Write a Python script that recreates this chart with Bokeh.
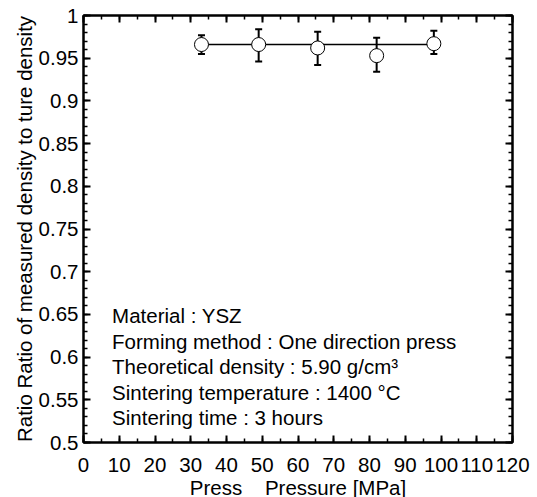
import numpy as np
from bokeh.plotting import figure
from bokeh.models import (ColumnDataSource, Whisker, TeeHead, LinearAxis, FixedTicker,
                          Range1d, Label)
from bokeh.embed import file_html
from bokeh.resources import INLINE

# ---- data ----
pressure = [33, 49, 65.5, 82, 98]
ratio = [0.966, 0.966, 0.962, 0.953, 0.967]
err_upper = [0.977, 0.984, 0.981, 0.974, 0.982]
err_lower = [0.955, 0.946, 0.942, 0.934, 0.955]
line_x = [33, 98]
line_y = [0.966, 0.966]

x_ticks = [0, 10, 20, 30, 40, 50, 60, 70, 80, 90, 100, 110, 120]
x_tick_labels = ["0", "10", "20", "30", "40", "50", "60", "70", "80", "90", "100", "110", "120"]
y_ticks = [0.5, 0.55, 0.6, 0.65, 0.7, 0.75, 0.8, 0.85, 0.9, 0.95, 1.0]
y_tick_labels = ["0.5", "0.55", "0.6", "0.65", "0.7", "0.75", "0.8", "0.85", "0.9", "0.95", "1"]

notes = ["Material : YSZ",
         "Forming method : One direction press",
         "Theoretical density : 5.90 g/cm\u00b3",
         "Sintering temperature : 1400 \u00b0C",
         "Sintering time : 3 hours"]

FONT = "Liberation Sans"
FS = "20.5px"
NB = "\u00a0"

p = figure(frame_width=429, frame_height=427, output_backend="svg", toolbar_location=None,
           x_range=Range1d(0, 120), y_range=Range1d(0.5, 1.0),
           min_border_left=83, min_border_right=25, min_border_top=15, min_border_bottom=55,
           x_axis_label="Press" + NB * 4 + "Pressure [MPa]",
           y_axis_label="Ratio Ratio of measured density to ture density")
p.grid.visible = False
p.outline_line_color = "black"
p.outline_line_width = 2
p.background_fill_color = "white"
p.border_fill_color = "white"

x_minor = [float(v) for v in np.arange(0, 121, 5)]
y_minor = [round(float(v), 2) for v in np.arange(0.5, 1.0001, 0.01)]
xt = FixedTicker(ticks=x_ticks, minor_ticks=x_minor)
yt = FixedTicker(ticks=y_ticks, minor_ticks=y_minor)

def style(ax, ticker, labels, show):
    ax.ticker = ticker
    ax.major_tick_in = 7
    ax.major_tick_out = 0
    ax.minor_tick_in = 4
    ax.minor_tick_out = 0
    ax.major_tick_line_width = 2
    ax.minor_tick_line_width = 1.5
    ax.axis_line_width = 2
    ax.major_tick_line_color = "black"
    ax.minor_tick_line_color = "black"
    ax.major_label_text_font = FONT
    ax.major_label_text_color = "black"
    ax.axis_label_text_font = FONT
    ax.axis_label_text_font_style = "normal"
    ax.axis_label_text_font_size = FS
    ax.axis_label_text_color = "black"
    ax.major_label_text_font_size = FS
    if show:
        ax.major_label_overrides = {t: l for t, l in zip(ticker.ticks, labels)}
    else:
        ax.major_label_overrides = {t: "" for t in ticker.ticks}
        ax.major_label_standoff = 0

xa = p.xaxis[0]
style(xa, xt, x_tick_labels, True)
xa.major_label_standoff = 15
xa.axis_label_standoff = 1

ya = p.yaxis[0]
style(ya, yt, y_tick_labels, True)
ya.major_label_standoff = 5
ya.axis_label_standoff = 0

top = LinearAxis()
style(top, FixedTicker(ticks=x_ticks, minor_ticks=x_minor), x_tick_labels, False)
p.add_layout(top, "above")
right = LinearAxis()
style(right, FixedTicker(ticks=y_ticks, minor_ticks=y_minor), y_tick_labels, False)
p.add_layout(right, "right")

src = ColumnDataSource(dict(x=pressure, y=ratio, upper=err_upper, lower=err_lower))

p.line(line_x, line_y, line_color="black", line_width=1.5)

wh = Whisker(source=src, base="x", upper="upper", lower="lower", dimension="height",
             line_color="black", line_width=2,
             upper_head=TeeHead(size=7, line_width=2, line_color="black"),
             lower_head=TeeHead(size=7, line_width=2, line_color="black"))
wh.level = "underlay"
p.add_layout(wh)

p.scatter("x", "y", source=src, size=14, marker="circle", fill_color="white",
          line_color="black", line_width=1)

note_x = 8
note_y0 = 0.6487
note_dy = 0.02986
for i, t in enumerate(notes):
    p.add_layout(Label(x=note_x, y=note_y0 - i * note_dy, text=t, text_font=FONT,
                       text_font_size=FS, text_color="black", text_baseline="middle"))

open("out.html", "w").write(file_html(p, INLINE))
